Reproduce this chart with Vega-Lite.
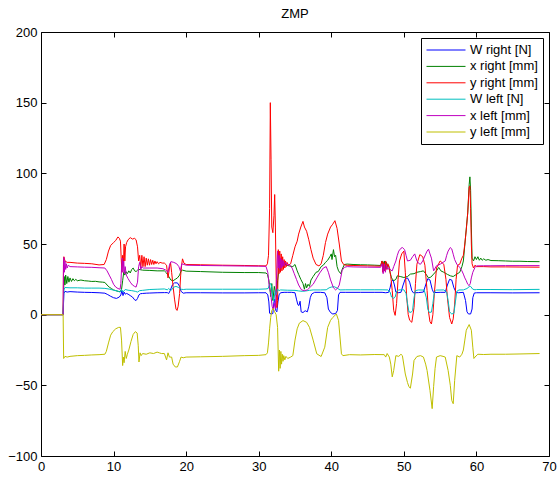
{
 "$schema": "https://vega.github.io/schema/vega-lite/v6.json",
 "width": 508,
 "height": 424,
 "autosize": {"type": "none"},
 "padding": {"left": 41, "top": 32, "right": 10, "bottom": 21},
 "background": "white",
 "title": {"text": "ZMP", "fontSize": 13, "fontWeight": "normal", "font": "Liberation Sans", "offset": 5, "color": "black"},
 "config": {
  "view": {"stroke": "black", "strokeWidth": 1},
  "axis": {"grid": false, "domain": false, "tickColor": "black", "tickSize": -5, "tickWidth": 1, "labelColor": "black", "labelFont": "Liberation Sans", "labelFontSize": 13, "title": null, "labelPadding": 9},
  "legend": {"orient": "none", "legendX": 380, "legendY": 6, "strokeColor": "black", "fillColor": "white", "padding": 5, "labelFont": "Liberation Sans", "labelFontSize": 13, "labelColor": "black", "symbolType": "M-1,0H5", "symbolSize": 169, "symbolStrokeWidth": 1, "labelOffset": 30, "rowPadding": 2.4, "title": null, "cornerRadius": 0}
 },
 "datasets": {
  "wr": [{"t":0,"v":0},{"t":3.05,"v":0},{"t":3.15,"v":15},{"t":3.3,"v":16.5},{"t":3.6,"v":16},{"t":4,"v":16.3},{"t":5,"v":16},{"t":6,"v":15.8},{"t":7,"v":15.7},{"t":8,"v":15.5},{"t":8.8,"v":15.2},{"t":9.2,"v":14.2},{"t":9.6,"v":13},{"t":10,"v":12},{"t":10.4,"v":11.5},{"t":10.8,"v":12.5},{"t":11.0,"v":14},{"t":11.15,"v":17},{"t":11.3,"v":13.5},{"t":11.45,"v":16},{"t":11.6,"v":14.5},{"t":11.8,"v":15},{"t":12.0,"v":14.5},{"t":12.3,"v":13.5},{"t":12.6,"v":12.5},{"t":12.9,"v":10.5},{"t":13.1,"v":10},{"t":13.3,"v":11.5},{"t":13.5,"v":14},{"t":13.7,"v":14.8},{"t":14,"v":15},{"t":14.5,"v":15.2},{"t":15,"v":15.3},{"t":16,"v":15.5},{"t":17,"v":15.6},{"t":17.4,"v":15.6},{"t":17.6,"v":15},{"t":17.8,"v":17},{"t":18.1,"v":21},{"t":18.4,"v":22.5},{"t":18.8,"v":22.5},{"t":19.1,"v":20},{"t":19.3,"v":16.5},{"t":19.6,"v":15.2},{"t":20,"v":15.5},{"t":22,"v":15.5},{"t":25,"v":15.4},{"t":28,"v":15.4},{"t":30,"v":15.5},{"t":31,"v":15.5},{"t":31.25,"v":14},{"t":31.4,"v":9},{"t":31.5,"v":1},{"t":31.7,"v":0.5},{"t":31.95,"v":0.8},{"t":32.1,"v":9},{"t":32.2,"v":11},{"t":32.35,"v":3},{"t":32.5,"v":2},{"t":32.65,"v":9},{"t":32.8,"v":14},{"t":33,"v":15.5},{"t":33.5,"v":15.8},{"t":34,"v":15.8},{"t":34.5,"v":15.8},{"t":35,"v":15.5},{"t":35.2,"v":11},{"t":35.4,"v":7},{"t":35.55,"v":6.5},{"t":35.7,"v":9.5},{"t":35.85,"v":2},{"t":36.1,"v":1.5},{"t":36.4,"v":2.8},{"t":36.7,"v":2},{"t":36.9,"v":6},{"t":37.1,"v":12},{"t":37.3,"v":14.6},{"t":37.7,"v":15.8},{"t":38.5,"v":15.8},{"t":39.1,"v":15.5},{"t":39.4,"v":12},{"t":39.6,"v":4},{"t":39.9,"v":1.5},{"t":40.2,"v":0.5},{"t":40.6,"v":0.8},{"t":40.85,"v":3},{"t":41.0,"v":14},{"t":41.2,"v":15.8},{"t":42,"v":15.8},{"t":44,"v":15.8},{"t":46,"v":15.8},{"t":47,"v":15.8},{"t":47.5,"v":15.5},{"t":47.9,"v":15.8},{"t":48.1,"v":19},{"t":48.3,"v":23.5},{"t":48.5,"v":24.5},{"t":48.7,"v":21},{"t":48.9,"v":16},{"t":49.2,"v":15.5},{"t":49.6,"v":15.8},{"t":49.9,"v":21},{"t":50.2,"v":25.5},{"t":50.5,"v":26},{"t":50.8,"v":23},{"t":51.1,"v":17},{"t":51.3,"v":15.5},{"t":52,"v":15.6},{"t":52.7,"v":16},{"t":53.0,"v":21},{"t":53.3,"v":25.5},{"t":53.6,"v":24.5},{"t":53.9,"v":18},{"t":54.1,"v":15.6},{"t":55,"v":15.8},{"t":55.7,"v":15.8},{"t":56.0,"v":21},{"t":56.3,"v":25},{"t":56.6,"v":24.5},{"t":56.9,"v":19},{"t":57.2,"v":15.8},{"t":57.5,"v":15.5},{"t":58.2,"v":15.8},{"t":58.5,"v":10},{"t":58.7,"v":2},{"t":58.9,"v":0.5},{"t":59.2,"v":0.5},{"t":59.4,"v":4},{"t":59.5,"v":12},{"t":59.7,"v":15.3},{"t":60,"v":15.5},{"t":62,"v":15.5},{"t":65,"v":15.4},{"t":68.7,"v":15.5}],
  "wl": [{"t":0,"v":0},{"t":3.05,"v":0},{"t":3.15,"v":17.5},{"t":3.3,"v":19.2},{"t":4,"v":19},{"t":5,"v":19},{"t":6,"v":18.8},{"t":7,"v":18.8},{"t":8,"v":18.8},{"t":8.8,"v":18.6},{"t":9.5,"v":18},{"t":10,"v":17.3},{"t":10.5,"v":16.8},{"t":10.9,"v":16},{"t":11.1,"v":17.8},{"t":11.3,"v":16},{"t":11.6,"v":17.8},{"t":12,"v":17.3},{"t":12.5,"v":17},{"t":13,"v":16.5},{"t":13.3,"v":16},{"t":13.6,"v":17},{"t":14,"v":17.2},{"t":15,"v":17.8},{"t":16,"v":18},{"t":17,"v":18.2},{"t":17.4,"v":17.6},{"t":17.6,"v":18.5},{"t":17.9,"v":17},{"t":18.3,"v":19.5},{"t":18.6,"v":20},{"t":19,"v":19.2},{"t":19.3,"v":18},{"t":19.6,"v":17.8},{"t":20,"v":18},{"t":25,"v":18},{"t":30,"v":18},{"t":31,"v":18.2},{"t":31.3,"v":18.5},{"t":31.5,"v":21.5},{"t":31.65,"v":22},{"t":31.8,"v":19},{"t":31.95,"v":12},{"t":32.1,"v":10},{"t":32.25,"v":17},{"t":32.4,"v":14},{"t":32.6,"v":18},{"t":32.8,"v":17},{"t":33,"v":17.5},{"t":34,"v":17.3},{"t":35,"v":17.2},{"t":35.5,"v":16.8},{"t":36,"v":16.5},{"t":36.5,"v":16.8},{"t":37,"v":17.2},{"t":37.5,"v":17.5},{"t":38.5,"v":17.5},{"t":39.3,"v":17.6},{"t":39.7,"v":19},{"t":40,"v":19.5},{"t":40.4,"v":19.8},{"t":40.8,"v":18.8},{"t":41.2,"v":17.5},{"t":42,"v":17.6},{"t":44,"v":17.6},{"t":46,"v":17.6},{"t":47,"v":17.6},{"t":47.8,"v":17.5},{"t":48.1,"v":16},{"t":48.3,"v":12.5},{"t":48.6,"v":11.5},{"t":48.8,"v":12.5},{"t":49,"v":16.5},{"t":49.3,"v":17.5},{"t":50,"v":17.6},{"t":50.3,"v":15},{"t":50.5,"v":8},{"t":50.7,"v":2},{"t":51.0,"v":1.6},{"t":51.2,"v":3},{"t":51.4,"v":12},{"t":51.6,"v":17},{"t":52,"v":17.5},{"t":52.8,"v":17.4},{"t":53.1,"v":12},{"t":53.3,"v":4},{"t":53.5,"v":1.6},{"t":53.8,"v":1.8},{"t":54.0,"v":8},{"t":54.2,"v":16},{"t":54.5,"v":17.4},{"t":55.5,"v":17.5},{"t":55.9,"v":16},{"t":56.1,"v":10},{"t":56.3,"v":2},{"t":56.6,"v":0.5},{"t":56.9,"v":1},{"t":57.1,"v":9},{"t":57.3,"v":16.5},{"t":57.6,"v":17.5},{"t":58.2,"v":17.5},{"t":58.7,"v":18.5},{"t":59.0,"v":19.8},{"t":59.2,"v":20},{"t":59.5,"v":18},{"t":59.8,"v":17.6},{"t":60,"v":17.8},{"t":62,"v":17.8},{"t":65,"v":17.7},{"t":68.7,"v":17.9}],
  "xr": [{"t":0,"v":0},{"t":3.05,"v":0},{"t":3.12,"v":18},{"t":3.2,"v":27},{"t":3.3,"v":21},{"t":3.4,"v":28},{"t":3.55,"v":22},{"t":3.7,"v":27},{"t":3.85,"v":23},{"t":4.0,"v":26},{"t":4.2,"v":23.5},{"t":4.4,"v":25.5},{"t":4.6,"v":24},{"t":4.8,"v":25},{"t":5.0,"v":24},{"t":5.5,"v":24.5},{"t":6,"v":24},{"t":6.5,"v":23.8},{"t":7,"v":23.5},{"t":7.5,"v":23.6},{"t":8,"v":23.2},{"t":8.5,"v":23},{"t":8.8,"v":22.8},{"t":9.1,"v":21},{"t":9.4,"v":19.5},{"t":9.7,"v":18.5},{"t":10,"v":17.5},{"t":10.3,"v":17},{"t":10.6,"v":16.5},{"t":10.9,"v":16.3},{"t":11.1,"v":18},{"t":11.25,"v":24},{"t":11.4,"v":30},{"t":11.55,"v":28},{"t":11.7,"v":30.5},{"t":11.9,"v":29},{"t":12.1,"v":31},{"t":12.3,"v":29.5},{"t":12.5,"v":32},{"t":12.7,"v":33},{"t":12.9,"v":31},{"t":13.1,"v":30.5},{"t":13.3,"v":31.5},{"t":13.5,"v":32},{"t":14,"v":31.5},{"t":15,"v":31.3},{"t":16,"v":31},{"t":17,"v":31},{"t":17.3,"v":29.5},{"t":17.6,"v":27},{"t":17.9,"v":24.5},{"t":18.2,"v":24},{"t":18.5,"v":25},{"t":18.8,"v":26},{"t":19.1,"v":28},{"t":19.3,"v":31},{"t":19.5,"v":31.5},{"t":20,"v":30.8},{"t":22,"v":30.5},{"t":25,"v":30},{"t":28,"v":29.8},{"t":30,"v":29.8},{"t":31,"v":29.5},{"t":31.2,"v":28.5},{"t":31.4,"v":24.5},{"t":31.55,"v":18},{"t":31.65,"v":12.8},{"t":31.8,"v":22},{"t":31.95,"v":10},{"t":32.15,"v":20},{"t":32.3,"v":16},{"t":32.45,"v":12.8},{"t":32.6,"v":24},{"t":32.75,"v":30},{"t":32.9,"v":36},{"t":33.05,"v":33},{"t":33.2,"v":37},{"t":33.4,"v":34},{"t":33.6,"v":36},{"t":33.8,"v":35},{"t":34.2,"v":34.5},{"t":34.7,"v":34},{"t":35.0,"v":35.5},{"t":35.3,"v":31},{"t":35.5,"v":28.5},{"t":35.8,"v":25},{"t":36.1,"v":22},{"t":36.3,"v":18},{"t":36.45,"v":22},{"t":36.6,"v":19},{"t":36.8,"v":21.5},{"t":37.0,"v":20},{"t":37.2,"v":24.5},{"t":37.5,"v":27},{"t":37.9,"v":30},{"t":38.2,"v":30.5},{"t":38.6,"v":34},{"t":38.9,"v":35},{"t":39.2,"v":37},{"t":39.5,"v":38.5},{"t":39.8,"v":41},{"t":40.0,"v":43},{"t":40.1,"v":39},{"t":40.3,"v":46},{"t":40.45,"v":41},{"t":40.6,"v":42},{"t":40.8,"v":34},{"t":41.0,"v":31},{"t":41.3,"v":29},{"t":41.5,"v":32},{"t":41.8,"v":35.5},{"t":42.2,"v":35.8},{"t":43,"v":35.5},{"t":44,"v":35.3},{"t":45,"v":35.2},{"t":46,"v":35},{"t":46.8,"v":34.8},{"t":47.0,"v":38},{"t":47.15,"v":31},{"t":47.3,"v":38},{"t":47.45,"v":32},{"t":47.6,"v":37},{"t":47.75,"v":34},{"t":47.9,"v":35},{"t":48.1,"v":30},{"t":48.3,"v":26},{"t":48.6,"v":24},{"t":48.9,"v":25},{"t":49.1,"v":27.5},{"t":49.5,"v":27},{"t":50,"v":26.3},{"t":50.5,"v":27},{"t":50.9,"v":28.7},{"t":51.4,"v":29},{"t":51.8,"v":30},{"t":52.3,"v":30.5},{"t":52.7,"v":31},{"t":53.0,"v":29},{"t":53.4,"v":26},{"t":53.7,"v":26.5},{"t":54.1,"v":28.7},{"t":54.5,"v":31},{"t":54.8,"v":33.4},{"t":55.1,"v":31},{"t":55.5,"v":30},{"t":56.0,"v":28.5},{"t":56.4,"v":27.5},{"t":56.8,"v":27},{"t":57.3,"v":28.7},{"t":57.7,"v":30},{"t":58.0,"v":34},{"t":58.2,"v":38},{"t":58.5,"v":55},{"t":58.8,"v":72},{"t":59.0,"v":92},{"t":59.1,"v":97.5},{"t":59.2,"v":88},{"t":59.3,"v":62},{"t":59.4,"v":40},{"t":59.6,"v":38},{"t":59.8,"v":41},{"t":60.0,"v":39},{"t":60.2,"v":41},{"t":60.4,"v":38.5},{"t":60.6,"v":40},{"t":60.8,"v":38.5},{"t":61,"v":39.5},{"t":61.3,"v":38.5},{"t":61.6,"v":39},{"t":62,"v":38.3},{"t":63,"v":38.2},{"t":64,"v":38},{"t":65,"v":37.8},{"t":66,"v":37.8},{"t":67,"v":37.6},{"t":68.7,"v":37.5}],
  "yr": [{"t":0,"v":0},{"t":3.05,"v":0},{"t":3.1,"v":38},{"t":3.15,"v":41},{"t":3.3,"v":38},{"t":3.6,"v":37},{"t":4,"v":37},{"t":5,"v":36.5},{"t":6,"v":36.3},{"t":7,"v":36},{"t":8,"v":35.2},{"t":8.7,"v":35.5},{"t":9.0,"v":39},{"t":9.3,"v":45},{"t":9.6,"v":49},{"t":10,"v":51},{"t":10.3,"v":52.5},{"t":10.6,"v":55},{"t":10.8,"v":54},{"t":10.95,"v":52},{"t":11.05,"v":40},{"t":11.15,"v":30},{"t":11.25,"v":42},{"t":11.35,"v":35},{"t":11.45,"v":50},{"t":11.55,"v":38},{"t":11.65,"v":48},{"t":11.8,"v":51},{"t":12,"v":53},{"t":12.3,"v":54.5},{"t":12.6,"v":53.5},{"t":12.9,"v":54},{"t":13.1,"v":53},{"t":13.3,"v":48},{"t":13.45,"v":38},{"t":13.6,"v":42},{"t":13.75,"v":33},{"t":13.9,"v":42},{"t":14.05,"v":34},{"t":14.2,"v":41},{"t":14.35,"v":34},{"t":14.5,"v":40},{"t":14.65,"v":35},{"t":14.8,"v":39.5},{"t":14.95,"v":35},{"t":15.1,"v":39},{"t":15.25,"v":35.5},{"t":15.4,"v":38.5},{"t":15.55,"v":35.5},{"t":15.7,"v":38},{"t":15.85,"v":36},{"t":16,"v":37.5},{"t":16.2,"v":36},{"t":16.4,"v":37},{"t":16.7,"v":36.5},{"t":17,"v":36.5},{"t":17.3,"v":35},{"t":17.5,"v":26},{"t":17.7,"v":33},{"t":17.85,"v":37},{"t":18,"v":30},{"t":18.2,"v":20},{"t":18.4,"v":11},{"t":18.6,"v":4},{"t":18.75,"v":3},{"t":18.9,"v":6},{"t":19.1,"v":15},{"t":19.25,"v":28},{"t":19.4,"v":36},{"t":19.5,"v":39.5},{"t":19.7,"v":36.4},{"t":20,"v":35.5},{"t":22,"v":35.3},{"t":25,"v":35},{"t":28,"v":34.8},{"t":30,"v":34.6},{"t":31,"v":34.5},{"t":31.2,"v":36},{"t":31.35,"v":42},{"t":31.5,"v":75},{"t":31.6,"v":150},{"t":31.7,"v":110},{"t":31.8,"v":62},{"t":31.95,"v":58},{"t":32.1,"v":70},{"t":32.2,"v":85},{"t":32.3,"v":62},{"t":32.4,"v":28},{"t":32.5,"v":5},{"t":32.6,"v":10},{"t":32.7,"v":46},{"t":32.8,"v":29},{"t":32.9,"v":45},{"t":33.0,"v":30},{"t":33.1,"v":43},{"t":33.2,"v":31},{"t":33.3,"v":41},{"t":33.4,"v":32},{"t":33.5,"v":39},{"t":33.6,"v":33},{"t":33.7,"v":38},{"t":33.8,"v":34},{"t":33.9,"v":37},{"t":34.1,"v":35},{"t":34.4,"v":36},{"t":34.7,"v":42},{"t":35.0,"v":48},{"t":35.3,"v":52},{"t":35.5,"v":57},{"t":35.8,"v":62},{"t":36.1,"v":66},{"t":36.3,"v":62},{"t":36.6,"v":59},{"t":36.9,"v":53},{"t":37.2,"v":46},{"t":37.5,"v":40},{"t":37.9,"v":35.5},{"t":38.3,"v":34.5},{"t":38.6,"v":36},{"t":38.9,"v":42},{"t":39.2,"v":51},{"t":39.5,"v":57},{"t":39.9,"v":62},{"t":40.2,"v":64},{"t":40.5,"v":66.5},{"t":40.8,"v":61},{"t":41.1,"v":50},{"t":41.4,"v":38},{"t":41.7,"v":35.5},{"t":42,"v":35},{"t":43,"v":34.8},{"t":45,"v":34.5},{"t":46.8,"v":34.3},{"t":47.0,"v":38},{"t":47.1,"v":30},{"t":47.2,"v":37},{"t":47.35,"v":31},{"t":47.5,"v":38},{"t":47.65,"v":32},{"t":47.8,"v":36},{"t":48.0,"v":33},{"t":48.2,"v":27},{"t":48.4,"v":17},{"t":48.6,"v":3},{"t":48.8,"v":-0.5},{"t":49.0,"v":8},{"t":49.2,"v":25},{"t":49.4,"v":38},{"t":49.7,"v":43},{"t":50.0,"v":45},{"t":50.2,"v":30},{"t":50.4,"v":12},{"t":50.6,"v":0},{"t":50.8,"v":-4},{"t":51.1,"v":-5.4},{"t":51.4,"v":5},{"t":51.6,"v":22},{"t":51.8,"v":35.7},{"t":52.2,"v":42.5},{"t":52.6,"v":41},{"t":52.9,"v":35},{"t":53.2,"v":17},{"t":53.4,"v":2},{"t":53.6,"v":-5},{"t":53.8,"v":-6.6},{"t":54.0,"v":0},{"t":54.2,"v":15},{"t":54.5,"v":33},{"t":55,"v":38},{"t":55.5,"v":35.7},{"t":55.8,"v":25},{"t":56.0,"v":12},{"t":56.3,"v":-2},{"t":56.6,"v":-6.6},{"t":56.8,"v":-3},{"t":57.0,"v":7.5},{"t":57.2,"v":25},{"t":57.4,"v":35},{"t":57.7,"v":35.7},{"t":58.0,"v":40},{"t":58.2,"v":42},{"t":58.4,"v":50},{"t":58.6,"v":60},{"t":58.8,"v":72},{"t":59.0,"v":90},{"t":59.1,"v":91},{"t":59.2,"v":75},{"t":59.3,"v":50},{"t":59.4,"v":36},{"t":59.6,"v":33},{"t":59.8,"v":35},{"t":60,"v":34},{"t":61,"v":34},{"t":62,"v":33.8},{"t":64,"v":33.8},{"t":66,"v":33.7},{"t":68.7,"v":33.6}],
  "xl": [{"t":0,"v":0},{"t":3.05,"v":0},{"t":3.1,"v":35},{"t":3.15,"v":40.5},{"t":3.22,"v":30},{"t":3.3,"v":38},{"t":3.4,"v":32},{"t":3.5,"v":36},{"t":3.6,"v":33},{"t":3.75,"v":35},{"t":4,"v":34},{"t":5,"v":33.8},{"t":6,"v":33.6},{"t":7,"v":33.5},{"t":8,"v":33.2},{"t":8.8,"v":33},{"t":9.1,"v":31},{"t":9.4,"v":28},{"t":9.7,"v":25},{"t":10,"v":21.5},{"t":10.3,"v":19.5},{"t":10.6,"v":18.5},{"t":10.9,"v":18},{"t":11.0,"v":22},{"t":11.1,"v":33},{"t":11.2,"v":40},{"t":11.3,"v":30},{"t":11.4,"v":38},{"t":11.5,"v":29},{"t":11.6,"v":34},{"t":11.75,"v":28},{"t":12,"v":25.5},{"t":12.3,"v":23},{"t":12.6,"v":21},{"t":12.9,"v":20},{"t":13.1,"v":19.5},{"t":13.3,"v":23},{"t":13.45,"v":34},{"t":13.6,"v":37},{"t":13.75,"v":32},{"t":13.9,"v":34},{"t":14.1,"v":33},{"t":15,"v":33},{"t":16,"v":33},{"t":16.8,"v":32.5},{"t":17.2,"v":31.5},{"t":17.5,"v":30},{"t":17.7,"v":35},{"t":17.9,"v":37.5},{"t":18.3,"v":37},{"t":18.7,"v":36},{"t":19.0,"v":34},{"t":19.2,"v":31},{"t":19.4,"v":36},{"t":19.7,"v":35.5},{"t":20,"v":35},{"t":22,"v":34.8},{"t":25,"v":34.6},{"t":28,"v":34.4},{"t":30,"v":34.3},{"t":31,"v":34.2},{"t":31.25,"v":30},{"t":31.45,"v":20},{"t":31.65,"v":15},{"t":31.85,"v":6},{"t":32.0,"v":3.6},{"t":32.15,"v":8},{"t":32.3,"v":4},{"t":32.45,"v":25},{"t":32.6,"v":45},{"t":32.7,"v":33},{"t":32.8,"v":42},{"t":32.9,"v":32},{"t":33.0,"v":40},{"t":33.1,"v":33},{"t":33.2,"v":39},{"t":33.3,"v":34},{"t":33.4,"v":38},{"t":33.5,"v":34.5},{"t":33.7,"v":37},{"t":33.9,"v":35},{"t":34.2,"v":35.5},{"t":34.6,"v":33},{"t":34.9,"v":29},{"t":35.2,"v":25},{"t":35.5,"v":21},{"t":35.9,"v":17.5},{"t":36.3,"v":17},{"t":36.7,"v":17.5},{"t":37.1,"v":19.5},{"t":37.5,"v":21.5},{"t":38.0,"v":26},{"t":38.4,"v":29.5},{"t":38.9,"v":33},{"t":39.3,"v":34},{"t":39.6,"v":30},{"t":39.9,"v":24.6},{"t":40.3,"v":19},{"t":40.6,"v":17.5},{"t":40.9,"v":19},{"t":41.1,"v":21},{"t":41.3,"v":26},{"t":41.5,"v":31.4},{"t":41.8,"v":33.5},{"t":42.2,"v":34},{"t":43,"v":33.8},{"t":45,"v":33.6},{"t":46.8,"v":33.5},{"t":47.0,"v":36},{"t":47.15,"v":29},{"t":47.3,"v":36},{"t":47.45,"v":30},{"t":47.6,"v":35},{"t":47.8,"v":32},{"t":48.0,"v":33},{"t":48.2,"v":31.5},{"t":48.4,"v":31},{"t":48.6,"v":34},{"t":48.9,"v":38},{"t":49.1,"v":42},{"t":49.3,"v":45},{"t":49.6,"v":47},{"t":49.8,"v":47.5},{"t":50.1,"v":46},{"t":50.3,"v":42},{"t":50.5,"v":38},{"t":50.9,"v":38.5},{"t":51.2,"v":41},{"t":51.5,"v":43},{"t":51.8,"v":38},{"t":52.1,"v":36},{"t":52.3,"v":35.7},{"t":52.6,"v":38},{"t":53.0,"v":42.8},{"t":53.2,"v":45},{"t":53.4,"v":46.3},{"t":53.6,"v":43},{"t":53.8,"v":40},{"t":54.1,"v":31},{"t":54.5,"v":34.6},{"t":55,"v":35.7},{"t":55.4,"v":37},{"t":55.7,"v":38},{"t":55.9,"v":42},{"t":56.1,"v":45},{"t":56.4,"v":47.5},{"t":56.6,"v":46.5},{"t":56.8,"v":42.8},{"t":57.0,"v":39},{"t":57.3,"v":35.7},{"t":57.7,"v":33.4},{"t":58.0,"v":31},{"t":58.2,"v":28.7},{"t":58.4,"v":26},{"t":58.6,"v":24},{"t":58.8,"v":21.5},{"t":59.0,"v":20.5},{"t":59.15,"v":22},{"t":59.3,"v":26},{"t":59.5,"v":30},{"t":59.8,"v":33.4},{"t":60,"v":34.5},{"t":61,"v":34.6},{"t":62,"v":34.6},{"t":64,"v":34.7},{"t":66,"v":34.7},{"t":68.7,"v":34.7}],
  "yl": [{"t":0,"v":0},{"t":3.05,"v":0},{"t":3.12,"v":-31},{"t":3.3,"v":-29.5},{"t":3.6,"v":-30},{"t":4,"v":-29.5},{"t":5,"v":-29},{"t":6,"v":-28.8},{"t":7,"v":-28.5},{"t":8,"v":-28.3},{"t":8.8,"v":-28},{"t":9.0,"v":-26},{"t":9.3,"v":-20},{"t":9.6,"v":-14.5},{"t":9.9,"v":-12},{"t":10.3,"v":-10},{"t":10.7,"v":-9},{"t":10.95,"v":-9},{"t":11.1,"v":-18},{"t":11.25,"v":-36},{"t":11.35,"v":-30},{"t":11.45,"v":-34},{"t":11.6,"v":-26},{"t":11.75,"v":-31},{"t":11.9,"v":-28},{"t":12.1,"v":-25},{"t":12.4,"v":-19},{"t":12.7,"v":-14},{"t":13.0,"v":-12},{"t":13.25,"v":-13},{"t":13.4,"v":-22},{"t":13.5,"v":-33.5},{"t":13.65,"v":-27},{"t":13.8,"v":-29},{"t":14,"v":-27.5},{"t":14.5,"v":-28},{"t":15,"v":-27},{"t":15.5,"v":-27.5},{"t":16,"v":-26.5},{"t":16.3,"v":-27},{"t":16.6,"v":-27.5},{"t":17.0,"v":-27.5},{"t":17.3,"v":-32},{"t":17.5,"v":-27},{"t":17.7,"v":-30},{"t":18.0,"v":-30},{"t":18.2,"v":-35},{"t":18.5,"v":-37},{"t":18.8,"v":-37},{"t":19.1,"v":-33},{"t":19.3,"v":-30},{"t":19.6,"v":-30.5},{"t":20,"v":-30},{"t":22,"v":-29.8},{"t":25,"v":-29.5},{"t":28,"v":-29},{"t":30,"v":-28.8},{"t":31,"v":-28.3},{"t":31.2,"v":-27},{"t":31.35,"v":-20},{"t":31.5,"v":-10},{"t":31.65,"v":-2},{"t":31.8,"v":3},{"t":32.0,"v":4.5},{"t":32.2,"v":2},{"t":32.4,"v":0},{"t":32.6,"v":-9},{"t":32.75,"v":-40},{"t":32.85,"v":-25},{"t":32.95,"v":-38},{"t":33.05,"v":-26},{"t":33.15,"v":-35},{"t":33.25,"v":-28},{"t":33.35,"v":-33},{"t":33.45,"v":-29},{"t":33.6,"v":-32},{"t":33.75,"v":-29.5},{"t":34.0,"v":-31},{"t":34.4,"v":-30},{"t":34.7,"v":-29},{"t":35.0,"v":-18},{"t":35.3,"v":-10},{"t":35.6,"v":-6},{"t":36.1,"v":-4.2},{"t":36.6,"v":-5.4},{"t":37.0,"v":-9},{"t":37.5,"v":-18},{"t":38.0,"v":-27.7},{"t":38.6,"v":-29.6},{"t":39.1,"v":-23},{"t":39.5,"v":-9},{"t":39.9,"v":-4},{"t":40.2,"v":-2},{"t":40.7,"v":0.5},{"t":41.0,"v":-4},{"t":41.4,"v":-27.7},{"t":41.6,"v":-29},{"t":42.5,"v":-28.3},{"t":44,"v":-28.5},{"t":46,"v":-28.2},{"t":47.3,"v":-28.3},{"t":47.5,"v":-30},{"t":47.7,"v":-27.5},{"t":48.0,"v":-30},{"t":48.2,"v":-35},{"t":48.4,"v":-44},{"t":48.6,"v":-39.5},{"t":48.9,"v":-29},{"t":49.3,"v":-29.5},{"t":49.6,"v":-28},{"t":49.8,"v":-29},{"t":50.2,"v":-42},{"t":50.5,"v":-48},{"t":50.7,"v":-51},{"t":50.9,"v":-52},{"t":51.2,"v":-42},{"t":51.4,"v":-32.4},{"t":51.8,"v":-29.6},{"t":52.3,"v":-29},{"t":52.7,"v":-30},{"t":53.0,"v":-35},{"t":53.2,"v":-39.5},{"t":53.6,"v":-53.6},{"t":53.9,"v":-66.5},{"t":54.1,"v":-51},{"t":54.3,"v":-38},{"t":54.5,"v":-30},{"t":55,"v":-29},{"t":55.4,"v":-29.5},{"t":55.7,"v":-30},{"t":56.1,"v":-39.5},{"t":56.4,"v":-50},{"t":56.6,"v":-60.7},{"t":56.8,"v":-63},{"t":57.0,"v":-46.5},{"t":57.3,"v":-29},{"t":57.7,"v":-30},{"t":58.0,"v":-28},{"t":58.2,"v":-25},{"t":58.4,"v":-18},{"t":58.6,"v":-11},{"t":59.0,"v":-7},{"t":59.3,"v":-11},{"t":59.5,"v":-23},{"t":59.65,"v":-31},{"t":59.8,"v":-30},{"t":60.2,"v":-28},{"t":61,"v":-28.2},{"t":62,"v":-28},{"t":64,"v":-28},{"t":66,"v":-27.8},{"t":68.7,"v":-27.5}]
 },
 "layer": [
  {"data": {"name": "wr"}, "mark": {"type": "line", "strokeWidth": 1},
   "encoding": {
    "x": {"field": "t", "type": "quantitative", "scale": {"domain": [0, 70], "nice": false, "zero": false}, "axis": {"orient": "bottom", "values": [0,10,20,30,40,50,60,70], "labelFlush": false}},
    "y": {"field": "v", "type": "quantitative", "scale": {"domain": [-100, 200], "nice": false, "zero": false}, "axis": {"orient": "left", "values": [-100,-50,0,50,100,150,200]}},
    "color": {"datum": "W right [N]", "type": "nominal", "scale": {"domain": ["W right [N]", "x right [mm]", "y right [mm]", "W left [N]", "x left [mm]", "y left [mm]"], "range": ["#0000ff", "#008000", "#ff0000", "#00bfbf", "#bf00bf", "#bfbf00"]}}
   }},
  {"data": {"name": "xr"}, "mark": {"type": "line", "strokeWidth": 1},
   "encoding": {"x": {"field": "t", "type": "quantitative", "axis": null}, "y": {"field": "v", "type": "quantitative", "axis": null}, "color": {"datum": "x right [mm]", "type": "nominal"}}},
  {"data": {"name": "yr"}, "mark": {"type": "line", "strokeWidth": 1},
   "encoding": {"x": {"field": "t", "type": "quantitative", "axis": null}, "y": {"field": "v", "type": "quantitative", "axis": null}, "color": {"datum": "y right [mm]", "type": "nominal"}}},
  {"data": {"name": "wl"}, "mark": {"type": "line", "strokeWidth": 1},
   "encoding": {"x": {"field": "t", "type": "quantitative", "axis": null}, "y": {"field": "v", "type": "quantitative", "axis": null}, "color": {"datum": "W left [N]", "type": "nominal"}}},
  {"data": {"name": "xl"}, "mark": {"type": "line", "strokeWidth": 1},
   "encoding": {"x": {"field": "t", "type": "quantitative", "axis": null}, "y": {"field": "v", "type": "quantitative", "axis": null}, "color": {"datum": "x left [mm]", "type": "nominal"}}},
  {"data": {"name": "yl"}, "mark": {"type": "line", "strokeWidth": 1},
   "encoding": {"x": {"field": "t", "type": "quantitative", "axis": null}, "y": {"field": "v", "type": "quantitative", "axis": null}, "color": {"datum": "y left [mm]", "type": "nominal"}}},
  {"data": {"name": "yl"}, "mark": {"type": "line", "strokeWidth": 1, "opacity": 0},
   "encoding": {"x": {"field": "t", "type": "quantitative", "axis": {"orient": "top", "values": [0,10,20,30,40,50,60,70], "labels": false}}, "y": {"field": "v", "type": "quantitative", "axis": {"orient": "right", "values": [-100,-50,0,50,100,150,200], "labels": false}}}}
 ],
 "resolve": {"axis": {"x": "independent", "y": "independent"}}
}
